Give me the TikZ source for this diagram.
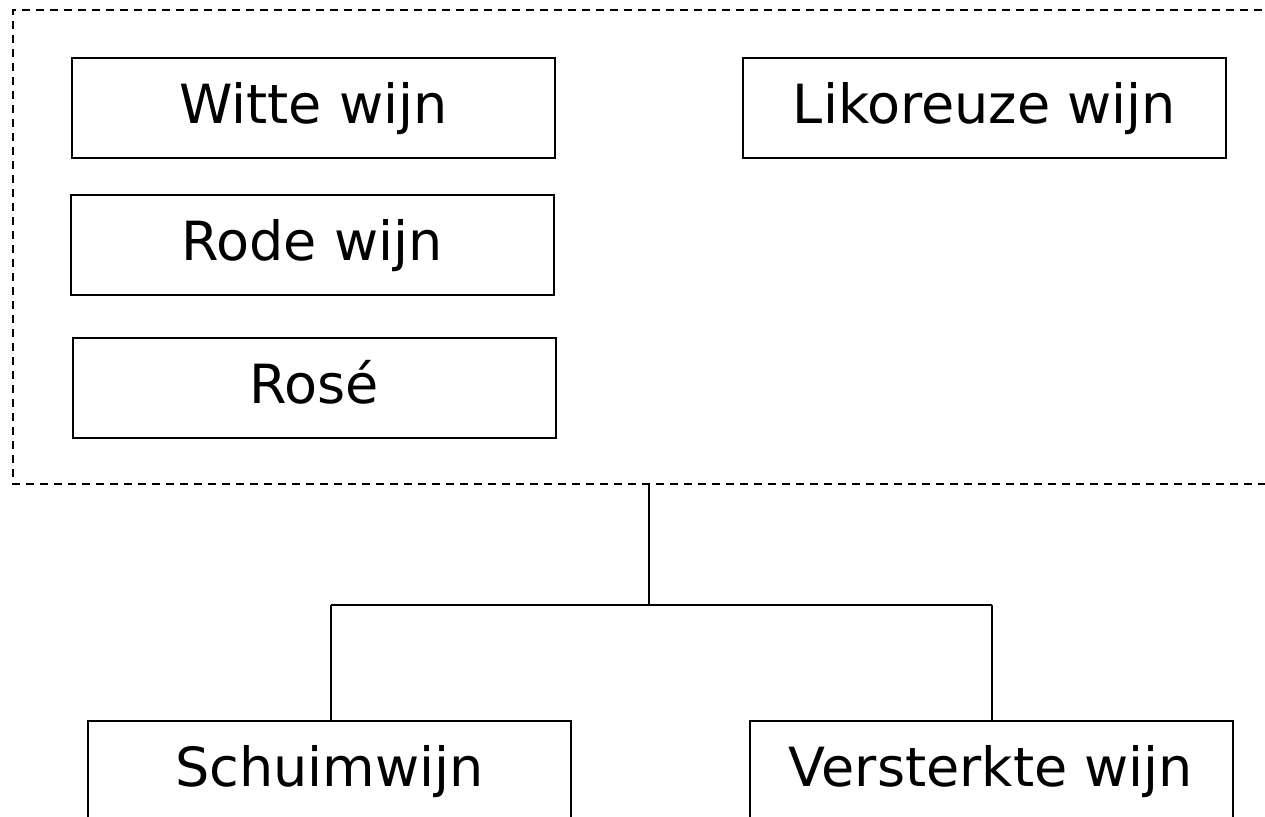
\documentclass[tikz,border=0pt]{standalone}
\usepackage{fontspec}
\setmainfont{DejaVu Sans}
\begin{document}
\begin{tikzpicture}[x=1pt,y=-1pt,
  wbox/.style={draw=black,line width=2pt,minimum width=483pt,minimum height=100pt,
    inner sep=0pt,text height=40pt,text depth=10pt,font=\fontsize{54}{62}\selectfont},
  grpline/.style={draw=black,line width=2pt,dash pattern=on 8pt off 6pt},
  conn/.style={draw=black,line width=2pt}]
\useasboundingbox (0,0) rectangle (1265,816);
\clip (0,0) rectangle (1265,816);
\fill[white] (0,0) rectangle (1265,816);
% dashed group
\draw[grpline] (1290,10) -- (13,10) -- (13,484) -- (1290,484);
\coordinate (grp) at (649,484);
% boxes
\node[wbox] (witte) at (313.5,108) {Witte wijn};
\node[wbox] (rode) at (312,245) {Rode wijn};
\node[wbox] (rose) at (314,388) {Rosé};
\node[wbox] (likor) at (984.5,108) {Likoreuze wijn};
\node[wbox] (schuim) at (329.5,771) {Schuimwijn};
\node[wbox] (verst) at (991,771) {Versterkte wijn};
% connectors
\coordinate (jm) at (649,605);
\coordinate (jl) at (331,605);
\coordinate (jr) at (992,605);
\draw[conn] (grp) -- (jm);
\draw[conn] (jl) -- (jr);
\draw[conn] (jl) -- (jl |- schuim.north);
\draw[conn] (jr) -- (jr |- verst.north);
\end{tikzpicture}
\end{document}
